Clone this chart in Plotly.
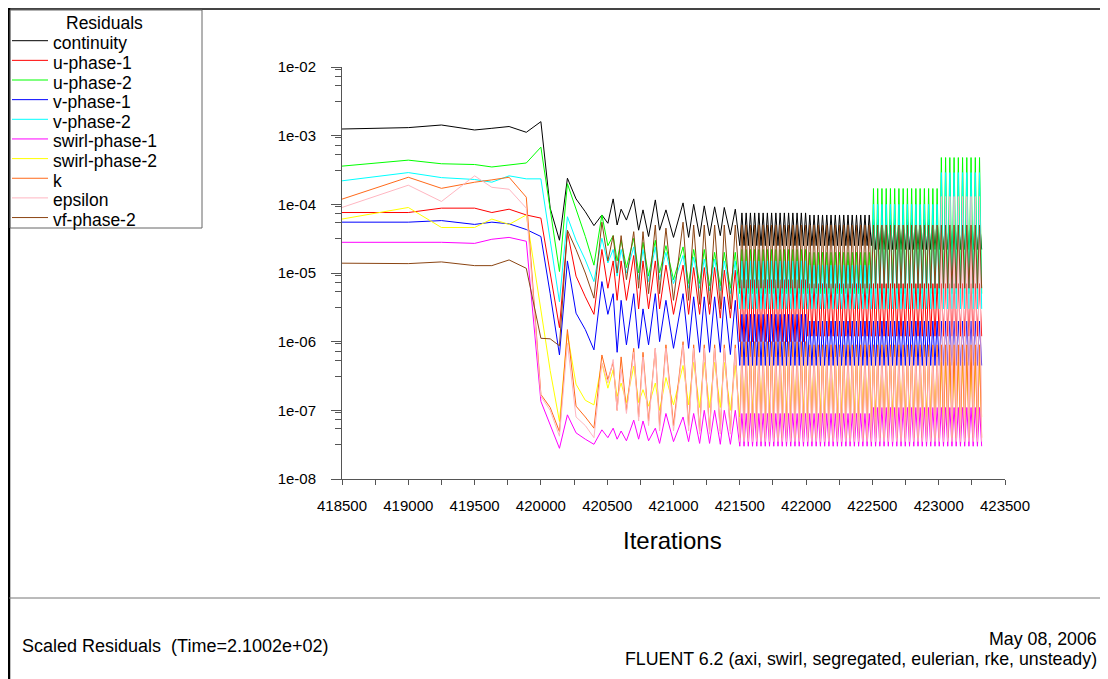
import plotly.graph_objects as go

# ---------------- data ----------------
SERIES = ["continuity", "u-phase-1", "u-phase-2", "v-phase-1", "v-phase-2",
          "swirl-phase-1", "swirl-phase-2", "k", "epsilon", "vf-phase-2"]
COLORS = ["#000000", "#ff0000", "#00ff00", "#0000ff", "#00ffff",
          "#ff00ff", "#ffff00", "#ff6a1a", "#ffb6c1", "#8b4513"]

# iterations of the recorded points before the dense part
ITER = [418500, 418750, 419000, 419250, 419500, 419630, 419760, 419890, 420000,
        420070, 420140, 420200, 420265, 420335, 420400, 420460, 420505, 420545, 420575,
        420605, 420645, 420700, 420737, 420770, 420812, 420863, 420895, 420943, 421000,
        421072, 421114, 421152, 421197, 421232, 421272, 421310, 421353, 421383, 421429, 421466]

continuity = [1.25e-3, 1.28e-3, 1.31e-3, 1.43e-3, 1.21e-3, 1.28e-3, 1.36e-3, 1.12e-3, 1.6e-3,
              8.8e-5, 3.0e-5, 2.4e-4, 1.2e-4, 7.8e-5, 4.9e-5, 7e-5, 5.3e-5, 1.2e-4, 5e-5,
              8.5e-5, 5.9e-5, 1.2e-4, 4.2e-5, 8.3e-5, 3.4e-5, 1.16e-4, 4.2e-5, 8.3e-5, 3.3e-5,
              1.05e-4, 3.3e-5, 1.0e-4, 3.4e-5, 9.5e-5, 3.5e-5, 9.2e-5, 3.5e-5, 9e-5, 3.6e-5, 8.5e-5]
u_phase_1 = [7.6e-5, 7.6e-5, 7.6e-5, 8.8e-5, 8.8e-5, 7.6e-5, 8.5e-5, 7e-5, 6.3e-5,
             1e-5, 1.6e-6, 4e-5, 9e-6, 4.5e-6, 2.5e-6, 2.2e-5, 6e-6, 1.5e-5, 4e-6,
             1.5e-5, 4e-6, 1.8e-5, 3e-6, 1.5e-5, 3e-6, 1.5e-5, 3e-6, 1.3e-5, 2.5e-6,
             1.3e-5, 2.5e-6, 1.2e-5, 2.5e-6, 1.2e-5, 2.5e-6, 1.2e-5, 2.2e-6, 1.1e-5, 2.2e-6, 1.1e-5]
u_phase_2 = [3.6e-4, 4.0e-4, 4.4e-4, 3.9e-4, 3.8e-4, 3.5e-4, 3.7e-4, 4.0e-4, 6.8e-4,
             8e-5, 1.05e-5, 2e-4, 8.8e-5, 3.4e-5, 1.3e-5, 7e-5, 2.5e-5, 3.5e-5, 1.5e-5,
             3e-5, 1.2e-5, 3.2e-5, 1e-5, 2.8e-5, 9e-6, 3e-5, 1e-5, 2.5e-5, 8e-6,
             2.4e-5, 7e-6, 2.2e-5, 7e-6, 2.2e-5, 6.5e-6, 2e-5, 6.5e-6, 2e-5, 6e-6, 2e-5]
v_phase_1 = [5.5e-5, 5.5e-5, 5.5e-5, 5.8e-5, 5.1e-5, 5.5e-5, 5.2e-5, 4.3e-5, 3.4e-5,
             5e-6, 6.4e-7, 1.5e-5, 2.6e-6, 1.5e-6, 7.6e-7, 7.5e-6, 2.5e-6, 5e-6, 7e-7,
             4e-6, 9e-7, 5e-6, 8e-7, 3e-6, 9e-7, 5e-6, 1e-6, 4e-6, 8e-7,
             5e-6, 8e-7, 4.5e-6, 7e-7, 4.5e-6, 7e-7, 4.5e-6, 7e-7, 4.5e-6, 6.5e-7, 4e-6]
v_phase_2 = [2.2e-4, 2.55e-4, 2.9e-4, 2.45e-4, 2.3e-4, 2.1e-4, 2.6e-4, 2.35e-4, 2.35e-4,
             3e-5, 3.8e-6, 6.6e-5, 3e-5, 1.55e-5, 7.5e-6, 3.2e-5, 1.4e-5, 2.2e-5, 9e-6,
             2.2e-5, 1e-5, 2.4e-5, 8e-6, 2.2e-5, 7.5e-6, 2.4e-5, 8e-6, 2e-5, 7e-6,
             1.8e-5, 6e-6, 1.7e-5, 6e-6, 1.6e-5, 5.5e-6, 1.6e-5, 5.5e-6, 1.5e-5, 5e-6, 1.5e-5]
swirl_phase_1 = [2.8e-5, 2.8e-5, 2.8e-5, 2.8e-5, 2.7e-5, 3.1e-5, 3.3e-5, 2.9e-5, 1.35e-7,
                 6e-8, 2.8e-8, 8.6e-8, 4.7e-8, 3.8e-8, 3.2e-8, 5.2e-8, 4e-8, 5.5e-8, 3.8e-8,
                 5e-8, 3.6e-8, 7.2e-8, 3.8e-8, 7e-8, 3.6e-8, 5.5e-8, 3.3e-8, 9e-8, 3.5e-8,
                 8e-8, 3.5e-8, 9e-8, 3.3e-8, 1e-7, 3.3e-8, 1e-7, 3.2e-8, 1e-7, 3.2e-8, 1e-7]
swirl_phase_2 = [6.1e-5, 7.5e-5, 9e-5, 4.6e-5, 4.6e-5, 6.1e-5, 5.1e-5, 7e-5, 2.8e-6,
                 3.8e-7, 6.9e-8, 1.3e-6, 2.4e-7, 1.4e-7, 1.2e-7, 4.9e-7, 2.1e-7, 3.9e-7, 1.6e-7,
                 2.5e-7, 1.3e-7, 4.4e-7, 1.3e-7, 2e-7, 1.15e-7, 2.5e-7, 1e-7, 3e-7, 1.2e-7,
                 4.5e-7, 1.2e-7, 5e-7, 1.1e-7, 5e-7, 1.1e-7, 5e-7, 1.1e-7, 5e-7, 1e-7, 4.5e-7]
k = [1.19e-4, 1.7e-4, 2.48e-4, 1.71e-4, 2.1e-4, 2.27e-4, 2.48e-4, 1.27e-4, 1.7e-7,
     1.1e-7, 4.9e-8, 1.5e-6, 1.15e-7, 8e-8, 5.5e-8, 6.4e-7, 2.8e-7, 5e-7, 1e-7,
     6e-7, 1e-7, 8e-7, 8e-8, 7e-7, 7e-8, 8e-7, 6e-8, 9e-7, 6e-8,
     1e-6, 6e-8, 9e-7, 5e-8, 9e-7, 5e-8, 9e-7, 5e-8, 9e-7, 5e-8, 9e-7]
epsilon = [9e-5, 1.3e-4, 1.9e-4, 1.1e-4, 2.6e-4, 1.77e-4, 1.66e-4, 8.8e-5, 1.6e-7,
           1e-7, 4.2e-8, 9.5e-7, 8e-8, 6e-8, 4e-8, 4.9e-7, 2.5e-7, 5.5e-7, 1e-7,
           4e-7, 9e-8, 7e-7, 7e-8, 6e-7, 6e-8, 8e-7, 5e-8, 8e-7, 5e-8,
           9e-7, 5e-8, 8e-7, 4.5e-8, 8e-7, 4.5e-8, 8e-7, 4.5e-8, 8e-7, 4.5e-8, 8e-7]
vf_phase_2 = [1.39e-5, 1.38e-5, 1.37e-5, 1.45e-5, 1.28e-5, 1.28e-5, 1.55e-5, 1.17e-5, 1.12e-6,
              1.1e-6, 8.7e-7, 4.2e-5, 2.2e-5, 1e-5, 4.3e-6, 5.5e-5, 1.5e-5, 3.5e-5, 1e-5,
              3.5e-5, 8e-6, 4e-5, 6e-6, 4e-5, 5e-6, 5e-5, 5e-6, 4.5e-5, 4e-6,
              5.5e-5, 4e-6, 5e-5, 3.5e-6, 5e-5, 3.5e-6, 5e-5, 3e-6, 5e-5, 3e-6, 5e-5]

EARLY = [continuity, u_phase_1, u_phase_2, v_phase_1, v_phase_2,
         swirl_phase_1, swirl_phase_2, k, epsilon, vf_phase_2]

# dense oscillating part: points every DENSE_STEP iterations, alternating
# between the read low and high levels of each segment
DENSE_EDGES = [421500, 422000, 422500, 423000, 423330]
DENSE_STEP = 16
DENSE_HI = [
    [7.5e-5, 7e-5, 6e-5, 6e-5],        # continuity
    [8e-6, 7e-6, 7e-6, 7e-6],          # u-phase-1
    [2.2e-5, 2e-5, 1.7e-4, 4.8e-4],    # u-phase-2
    [2.5e-6, 2e-6, 2e-6, 2e-6],        # v-phase-1
    [1.5e-5, 1.3e-5, 1e-4, 2.9e-4],    # v-phase-2
    [9e-8, 9e-8, 1.1e-7, 1.1e-7],      # swirl-phase-1
    [6e-7, 6e-7, 5e-7, 5e-7],          # swirl-phase-2
    [1e-6, 9e-7, 9e-7, 9e-7],          # k
    [6e-7, 6e-7, 6e-7, 1.3e-4],        # epsilon
    [5e-5, 5e-5, 5e-5, 5e-5],          # vf-phase-2
]
DENSE_LO = [
    [2.5e-5, 2.5e-5, 2.2e-5, 2.2e-5],
    [1e-6, 1.2e-6, 1.2e-6, 1.2e-6],
    [5e-6, 5e-6, 5e-6, 5e-6],
    [4.5e-7, 4.5e-7, 4.5e-7, 4.5e-7],
    [3e-6, 3e-6, 3e-6, 3e-6],
    [3e-8, 3e-8, 3e-8, 3e-8],
    [8e-8, 8e-8, 8e-8, 8e-8],
    [4e-8, 4e-8, 4e-8, 4e-8],
    [3.5e-8, 3.5e-8, 3.5e-8, 3.5e-8],
    [6e-6, 6e-6, 6e-6, 6e-6],
]

X_TICKS = [418500, 419000, 419500, 420000, 420500, 421000, 421500, 422000, 422500, 423000, 423500]
Y_TICKVALS = [1e-8, 1e-7, 1e-6, 1e-5, 1e-4, 1e-3, 1e-2]
Y_TICKTEXT = ["1e-08", "1e-07", "1e-06", "1e-05", "1e-04", "1e-03", "1e-02"]
Y_MINOR_MULT = [3.16, 5.4, 7.3, 9.3]

# ---------------- figure ----------------
# the page body adds an 8 px margin, so the figure is shifted by OFF
OFF = 8
W, H = 1108 - OFF, 679 - OFF
ML, MR, MT, MB = 342 - OFF, 103, 67 - OFF, 200
PW, PH = W - ML - MR, H - MT - MB
FONT = "Liberation Sans, Arial, Helvetica, sans-serif"


def px(x):
    """reference-picture x pixel -> paper coordinate"""
    return (x - OFF - ML) / PW


def py(y):
    """reference-picture y pixel -> paper coordinate"""
    return (H - MB - (y - OFF)) / PH


dense_x = list(range(DENSE_EDGES[0], DENSE_EDGES[-1] + 1, DENSE_STEP))

fig = go.Figure()
for s, name in enumerate(SERIES):
    xs = list(ITER)
    ys = list(EARLY[s])
    for i, xv in enumerate(dense_x):
        seg = 0
        while seg < len(DENSE_EDGES) - 2 and xv >= DENSE_EDGES[seg + 1]:
            seg += 1
        xs.append(xv)
        ys.append(DENSE_LO[s][seg] if i % 2 == 0 else DENSE_HI[s][seg])
    fig.add_trace(go.Scatter(x=xs, y=ys, mode="lines", name=name,
                             line=dict(color=COLORS[s], width=1),
                             showlegend=False, hoverinfo="skip"))

minor_y = [m * 10.0 ** e for e in range(-8, -2) for m in Y_MINOR_MULT]

fig.update_layout(
    width=W, height=H, autosize=False,
    margin=dict(l=ML, r=MR, t=MT, b=MB, pad=0),
    paper_bgcolor="white", plot_bgcolor="white",
    font=dict(family=FONT, color="black"),
    xaxis=dict(range=[418500, 423500], tickmode="array", tickvals=X_TICKS,
               ticktext=[str(v) for v in X_TICKS],
               showgrid=False, zeroline=False, showline=True, linecolor="#555555", linewidth=1,
               ticks="outside", ticklen=5, tickcolor="#555555", tickwidth=1,
               tickfont=dict(size=15, family=FONT, color="black"), ticklabelstandoff=8,
               minor=dict(tickmode="linear", tick0=418500, dtick=250, ticks="outside",
                          ticklen=5, tickcolor="#555555", showgrid=False)),
    yaxis=dict(type="log", range=[-8, -2], tickmode="array", tickvals=Y_TICKVALS,
               ticktext=Y_TICKTEXT,
               showgrid=False, zeroline=False, showline=True, linecolor="#555555", linewidth=1,
               ticks="outside", ticklen=10, tickcolor="#555555", tickwidth=1,
               tickfont=dict(size=15, family=FONT, color="black"), ticklabelstandoff=12,
               minor=dict(tickmode="array", tickvals=minor_y, ticks="outside",
                          ticklen=6, tickcolor="#555555", showgrid=False)),
)

shapes = []
annotations = []
# outer frame and footer separator
shapes.append(dict(type="line", xref="paper", yref="paper", x0=px(8), x1=px(1108), y0=py(9), y1=py(9),
                   line=dict(color="#444444", width=2)))
shapes.append(dict(type="line", xref="paper", yref="paper", x0=px(9), x1=px(9), y0=py(8), y1=py(679),
                   line=dict(color="#000000", width=2.5)))
shapes.append(dict(type="line", xref="paper", yref="paper", x0=px(9), x1=px(1108), y0=py(598), y1=py(598),
                   line=dict(color="#777777", width=1)))
# legend box
shapes.append(dict(type="rect", xref="paper", yref="paper", x0=px(10), x1=px(202), y0=py(10), y1=py(228),
                   line=dict(color="#666666", width=1), fillcolor="rgba(0,0,0,0)"))
annotations.append(dict(text="Residuals", xref="paper", yref="paper", x=px(104), y=py(23),
                        xanchor="center", yanchor="middle", showarrow=False,
                        font=dict(size=17.5, family=FONT, color="black")))
for s, name in enumerate(SERIES):
    ly = 40.7 + 19.65 * s
    shapes.append(dict(type="line", xref="paper", yref="paper", x0=px(12), x1=px(48), y0=py(ly), y1=py(ly),
                       line=dict(color=COLORS[s], width=1)))
    annotations.append(dict(text=name, xref="paper", yref="paper", x=px(51), y=py(ly + 2.5),
                            xanchor="left", yanchor="middle", showarrow=False,
                            font=dict(size=17.5, family=FONT, color="black")))

annotations.append(dict(text="Iterations", xref="paper", yref="paper", x=px(672), y=py(540),
                        xanchor="center", yanchor="middle", showarrow=False,
                        font=dict(size=24, family=FONT, color="black")))
annotations.append(dict(text="Scaled Residuals  (Time=2.1002e+02)", xref="paper", yref="paper",
                        x=px(20), y=py(646), xanchor="left", yanchor="middle", showarrow=False,
                        font=dict(size=18, family=FONT, color="black")))
annotations.append(dict(text="May 08, 2006", xref="paper", yref="paper",
                        x=px(1099), y=py(638.5), xanchor="right", yanchor="middle", showarrow=False,
                        font=dict(size=17.8, family=FONT, color="black")))
annotations.append(dict(text="FLUENT 6.2 (axi, swirl, segregated, eulerian, rke, unsteady)",
                        xref="paper", yref="paper",
                        x=px(1099), y=py(659), xanchor="right", yanchor="middle", showarrow=False,
                        font=dict(size=17.8, family=FONT, color="black")))

fig.update_layout(shapes=shapes, annotations=annotations)
fig.write_html("out.html")
